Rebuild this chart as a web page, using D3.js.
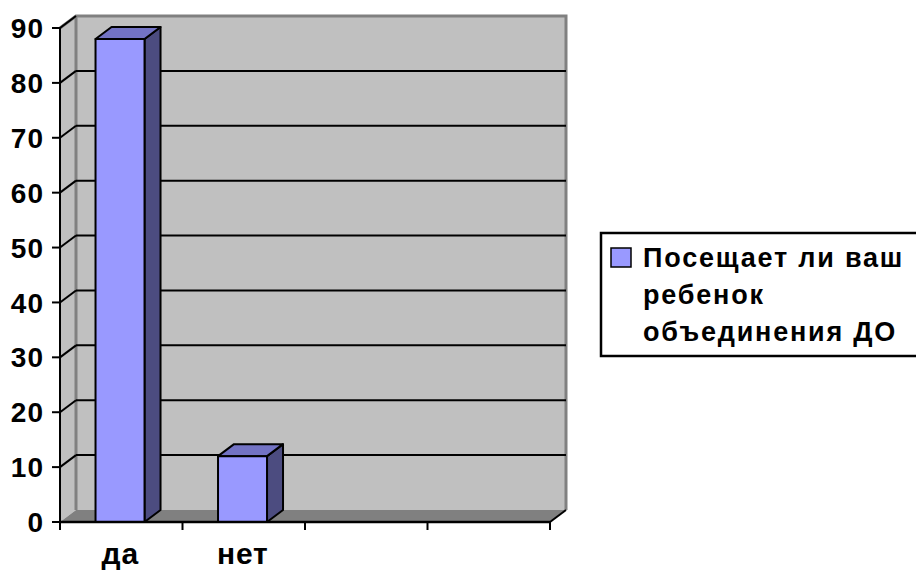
<!DOCTYPE html>
<html><head><meta charset="utf-8">
<script src="https://cdn.jsdelivr.net/npm/d3@7"></script>
<style>
html,body{margin:0;padding:0;background:#fff;}
svg{display:block;font-family:"Liberation Sans",Arial,sans-serif;font-weight:bold;}
</style></head>
<body>
<svg id="chart" width="916" height="572"></svg>
<script>
// ---- data ----
const categories = ["да", "нет", "", ""];
const values = [88, 12, null, null];
const yTicks = [0, 10, 20, 30, 40, 50, 60, 70, 80, 90];
const seriesName = "Посещает ли ваш ребенок объединения ДО";
const legendLines = ["Посещает ли ваш", "ребенок", "объединения ДО"];

// ---- layout ----
const svg = d3.select("#chart");
const X0 = 60, X1 = 550, Y0 = 522, Y1 = 28;
const DX = 16, DY = -12; // depth offset
const x = d3.scaleBand().domain(d3.range(categories.length)).range([X0, X1]).padding(0);
const y = d3.scaleLinear().domain([0, 90]).range([Y0, Y1]);

const wallFill = "#c0c0c0", wallEdge = "#808080", floorFill = "#808080";
const line = d3.line();

// left side wall
svg.append("path")
  .attr("d", line([[X0, y(90)], [X0 + DX, y(90) + DY], [X0 + DX, y(0) + DY], [X0, y(0)]]) + "Z")
  .attr("fill", wallFill);
// back wall
svg.append("rect")
  .attr("x", X0 + DX).attr("y", y(90) + DY)
  .attr("width", X1 - X0).attr("height", y(0) - y(90))
  .attr("fill", wallFill);
// floor
svg.append("path")
  .attr("d", line([[X0, y(0)], [X0 + DX, y(0) + DY], [X1 + DX, y(0) + DY], [X1, y(0)]]) + "Z")
  .attr("fill", floorFill);

// wall edges (gray)
svg.append("path")
  .attr("d", line([[X0, y(90)], [X0 + DX, y(90) + DY], [X1 + DX, y(90) + DY], [X1 + DX, y(0) + DY]]))
  .attr("fill", "none").attr("stroke", wallEdge).attr("stroke-width", 3);
svg.append("line")
  .attr("x1", X0 + DX).attr("x2", X0 + DX)
  .attr("y1", y(90) + DY).attr("y2", y(0) + DY)
  .attr("stroke", wallEdge).attr("stroke-width", 3);

// gridlines on back wall + side wall diagonals
yTicks.forEach(t => {
  if (t > 0 && t < 90) {
    svg.append("line")
      .attr("x1", X0 + DX).attr("x2", X1 + DX)
      .attr("y1", y(t) + DY).attr("y2", y(t) + DY)
      .attr("stroke", "#000").attr("stroke-width", 2);
  }
  if (t > 0) {
    svg.append("line")
      .attr("x1", X0).attr("x2", X0 + DX)
      .attr("y1", y(t)).attr("y2", y(t) + DY)
      .attr("stroke", "#000").attr("stroke-width", 2);
  }
});

// bars
const frontCol = "#9999ff", topCol = "#7373c4", sideCol = "#4c4c80";
categories.forEach((c, i) => {
  const v = values[i];
  if (v == null) return;
  const bx = x(i) + x.bandwidth() * 0.29, bw = x.bandwidth() * 0.4;
  const yt = y(v), yb = y(0);
  const g = svg.append("g").attr("stroke", "#000").attr("stroke-width", 2).attr("stroke-linejoin", "round");
  g.append("path")
    .attr("d", line([[bx + bw, yb], [bx + bw + DX, yb + DY], [bx + bw + DX, yt + DY], [bx + bw, yt]]) + "Z")
    .attr("fill", sideCol);
  g.append("path")
    .attr("d", line([[bx, yt], [bx + DX, yt + DY], [bx + bw + DX, yt + DY], [bx + bw, yt]]) + "Z")
    .attr("fill", topCol);
  g.append("rect").attr("x", bx).attr("y", yt).attr("width", bw).attr("height", yb - yt)
    .attr("fill", frontCol);
});

// axes
svg.append("line").attr("x1", X0).attr("x2", X0).attr("y1", y(90)).attr("y2", y(0))
  .attr("stroke", "#000").attr("stroke-width", 2);
svg.append("line").attr("x1", X0).attr("x2", X1).attr("y1", y(0)).attr("y2", y(0))
  .attr("stroke", "#000").attr("stroke-width", 2.5);
svg.append("line").attr("x1", X1).attr("x2", X1 + DX).attr("y1", y(0)).attr("y2", y(0) + DY)
  .attr("stroke", "#000").attr("stroke-width", 2);

// y ticks + labels
yTicks.forEach(t => {
  svg.append("line").attr("x1", X0 - 8).attr("x2", X0).attr("y1", y(t)).attr("y2", y(t))
    .attr("stroke", "#000").attr("stroke-width", 2);
  svg.append("text").attr("x", 44).attr("y", y(t)).attr("dy", "0.36em")
    .attr("text-anchor", "end").attr("font-size", 28).attr("letter-spacing", 1)
    .attr("fill", "#000").text(t);
});

// x ticks + labels
const boundaries = d3.range(categories.length + 1).map(i => X0 + i * x.step());
boundaries.forEach(bx => {
  svg.append("line").attr("x1", bx).attr("x2", bx).attr("y1", y(0)).attr("y2", y(0) + 8)
    .attr("stroke", "#000").attr("stroke-width", 2);
});
categories.forEach((c, i) => {
  svg.append("text").attr("x", x(i) + x.bandwidth() / 2 - 1).attr("y", 564)
    .attr("text-anchor", "middle").attr("font-size", 30).attr("letter-spacing", 0.8)
    .attr("fill", "#000").text(c);
});

// legend
const lg = svg.append("g");
lg.append("rect").attr("x", 601).attr("y", 233).attr("width", 340).attr("height", 123)
  .attr("fill", "#fff").attr("stroke", "#000").attr("stroke-width", 2.5);
lg.append("rect").attr("x", 611).attr("y", 248).attr("width", 20).attr("height", 19)
  .attr("fill", frontCol).attr("stroke", "#000").attr("stroke-width", 1.5);
const lt = lg.append("text").attr("x", 643).attr("y", 267).attr("font-size", 27)
  .attr("letter-spacing", 1.8).attr("fill", "#000");
legendLines.forEach((s, i) => {
  lt.append("tspan").attr("x", 643).attr("dy", i === 0 ? 0 : 37).text(s);
});
lg.append("title").text(seriesName);
</script>
</body></html>
